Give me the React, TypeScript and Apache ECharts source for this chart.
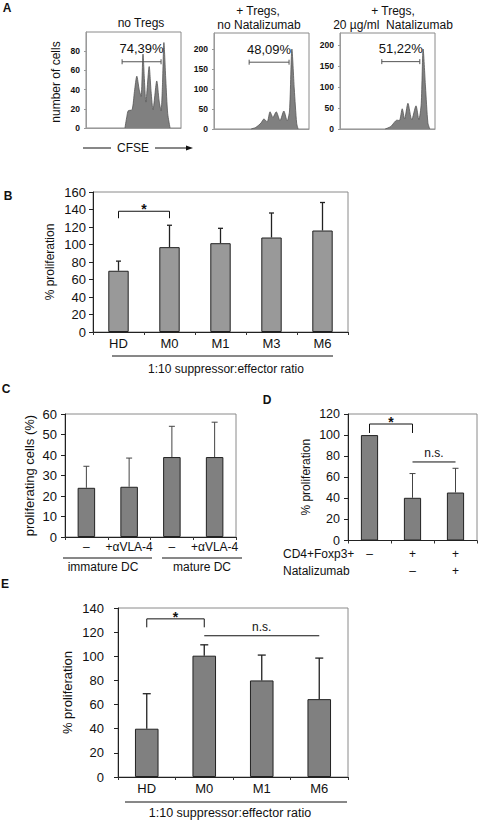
import React, { useEffect, useRef } from "react";
import * as echarts from "echarts";

const SANS = "'Liberation Sans', Arial, Helvetica, sans-serif";
const NARROW = "'Liberation Sans Narrow', 'Liberation Sans', Arial, sans-serif";

// ---------- Panel A : CFSE histograms ----------
const histTitleLines = [["no Tregs"], ["+ Tregs,", "no Natalizumab"], ["+ Tregs,", "20 µg/ml  Natalizumab"]];
const histYName = "number of cells";
const hist1Channel = [41, 43, 44.5, 48.5, 51, 53.5, 56, 58, 60, 61.5, 63, 66.5, 68.5, 70.5, 74.5, 77, 79, 80.5, 82, 84, 86, 88.5];
const hist1Count = [0, 12, 18, 19, 38, 54, 40, 33, 77, 50, 27, 64, 38, 19, 49, 28, 18, 45, 89, 50, 15, 0];
const hist2Channel = [39, 44, 49.5, 52.5, 56, 59, 62, 65.5, 69.5, 73.5, 77, 79.5, 82, 84.5, 87, 88.5];
const hist2Count = [0, 4, 15, 25, 18, 43, 29, 43, 21, 45, 20, 45, 200, 100, 15, 0];
const hist3Channel = [47.5, 53.5, 60, 62.5, 65.5, 68, 71.5, 75.5, 80, 83, 85.5, 87.5, 90, 92.5, 94.5];
const hist3Count = [0, 6, 21, 20, 48, 24, 61, 22, 55, 22, 60, 190, 100, 15, 0];
const histYMax = [100, 240, 228];
const histYTicks = [
  [0, 20, 40, 60, 80],
  [0, 50, 100, 150, 200],
  [0, 50, 100, 150, 200],
];
const gateLabels = ["74,39%", "48,09%", "51,22%"];
const gateFrom = [38, 37, 44];
const gateTo = [79, 79, 84];
const gateLevel = [69, 167, 160];

// ---------- Panel B ----------
const bCategories = ["HD", "M0", "M1", "M3", "M6"];
const bMeans = [70, 97, 101.5, 108, 116];
const bSD = [11, 25, 17, 28, 32];
const bSigFrom = [0];
const bSigTo = [1];
const bSigLevel = [138];
const bSigFoot = [130];
const bSigText = ["*"];
const bAxisTitle = "1:10 suppressor:effector ratio";

// ---------- Panel C ----------
const cCategories = ["\u2013", "+\u03B1VLA-4", "\u2013", "+\u03B1VLA-4"];
const cGroups = ["immature DC", "mature DC"];
const cMeans = [24, 24.5, 39, 39];
const cSD = [10.5, 14, 15, 17];

// ---------- Panel D ----------
const dTregRow = ["\u2013", "+", "+"];
const dNatRow = ["", "\u2013", "+"];
const dRowNames = ["CD4+Foxp3+", "Natalizumab"];
const dMeans = [100, 40.5, 45.5];
const dSD = [0, 23, 23];
const dSigFrom = [0, 1];
const dSigTo = [1, 2];
const dSigLevel = [110.5, 74.5];
const dSigFoot = [102, 74.5];
const dSigText = ["*", "n.s."];

// ---------- Panel E ----------
const eCategories = ["HD", "M0", "M1", "M6"];
const eMeans = [40, 100.5, 80, 64.5];
const eSD = [29, 9, 21, 34];
const eSigFrom = [0, 1];
const eSigTo = [1, 3];
const eSigLevel = [131, 117];
const eSigFoot = [124, 117];
const eSigText = ["*", "n.s."];
const eAxisTitle = "1:10 suppressor:effector ratio";

const panelLetters = ["A", "B", "C", "D", "E"];

function errorBars(idx: number, means: number[], sds: number[], color: string, lw: number, cap: number) {
  return {
    type: "custom",
    xAxisIndex: idx,
    yAxisIndex: idx,
    z: 4,
    encode: { x: 0, y: [1, 2] },
    data: means.map((m, i) => [i, m, m + sds[i]]),
    renderItem: (params: any, api: any) => {
      const lo = api.value(1);
      const hi = api.value(2);
      if (hi <= lo) return { type: "group", children: [] };
      const p0 = api.coord([api.value(0), lo]);
      const p1 = api.coord([api.value(0), hi]);
      return {
        type: "group",
        children: [
          { type: "line", shape: { x1: p0[0], y1: p0[1], x2: p1[0], y2: p1[1] }, style: { stroke: color, lineWidth: lw } },
          { type: "line", shape: { x1: p1[0] - cap, y1: p1[1], x2: p1[0] + cap, y2: p1[1] }, style: { stroke: color, lineWidth: lw } },
        ],
      };
    },
  };
}

function sigMarks(idx: number, from: number[], to: number[], level: number[], foot: number[], texts: string[], starSize: number, nsSize: number) {
  return {
    type: "custom",
    xAxisIndex: idx,
    yAxisIndex: idx,
    z: 5,
    encode: { x: [0, 1], y: [2, 3] },
    data: from.map((f, i) => [f, to[i], level[i], foot[i]]),
    renderItem: (params: any, api: any) => {
      const t = texts[params.dataIndex];
      const a = api.coord([api.value(0), api.value(3)]);
      const b = api.coord([api.value(0), api.value(2)]);
      const c = api.coord([api.value(1), api.value(2)]);
      const d = api.coord([api.value(1), api.value(3)]);
      const isStar = t === "*";
      return {
        type: "group",
        children: [
          { type: "polyline", shape: { points: [a, b, c, d] }, style: { stroke: "#111", lineWidth: 1, fill: null } },
          {
            type: "text",
            x: (b[0] + c[0]) / 2,
            y: b[1] - (isStar ? 2 : 9),
            style: {
              text: t,
              fill: "#111",
              fontFamily: SANS,
              fontSize: isStar ? starSize : nsSize,
              fontWeight: isStar ? "bold" : "normal",
              align: "center",
              verticalAlign: "middle",
            },
          },
        ],
      };
    },
  };
}

function gateSeries(idx: number) {
  return {
    type: "custom",
    xAxisIndex: idx,
    yAxisIndex: idx,
    z: 5,
    encode: { x: [0, 1], y: 2 },
    data: [[gateFrom[idx], gateTo[idx], gateLevel[idx]]],
    renderItem: (params: any, api: any) => {
      const a = api.coord([api.value(0), api.value(2)]);
      const b = api.coord([api.value(1), api.value(2)]);
      const col = "#555";
      return {
        type: "group",
        children: [
          { type: "line", shape: { x1: a[0], y1: a[1], x2: b[0], y2: b[1] }, style: { stroke: col, lineWidth: 1 } },
          { type: "line", shape: { x1: a[0], y1: a[1] - 2.5, x2: a[0], y2: a[1] + 2.5 }, style: { stroke: col, lineWidth: 1 } },
          { type: "line", shape: { x1: b[0], y1: b[1] - 2.5, x2: b[0], y2: b[1] + 2.5 }, style: { stroke: col, lineWidth: 1 } },
          {
            type: "text",
            x: (a[0] + b[0]) / 2,
            y: a[1] - 13,
            style: { text: gateLabels[idx], fill: "#111", fontFamily: SANS, fontSize: 13, align: "center", verticalAlign: "middle" },
          },
        ],
      };
    },
  };
}

export default function App() {
  const ref = useRef<HTMLDivElement>(null);
  useEffect(() => {
    document.body.style.margin = "0";
    if (!ref.current) return;
    const chart = echarts.init(ref.current, null, { renderer: "svg" });

    const histData = [
      hist1Channel.map((x, i) => [x, hist1Count[i]]),
      hist2Channel.map((x, i) => [x, hist2Count[i]]),
      hist3Channel.map((x, i) => [x, hist3Count[i]]),
    ];

    const grids = [
      { left: 86, top: 32, width: 95, height: 96 },
      { left: 214, top: 33, width: 95, height: 96 },
      { left: 340, top: 33, width: 95, height: 96 },
      { left: 93, top: 192, width: 255, height: 140 },
      { left: 65, top: 414, width: 171, height: 123 },
      { left: 348, top: 414, width: 129, height: 126.5 },
      { left: 118, top: 608, width: 230, height: 169 },
    ].map((g) => ({ ...g, show: true, borderColor: "#8a8a8a", borderWidth: 1, backgroundColor: "transparent", containLabel: false }));

    const histX = [0, 1, 2].map((i) => ({
      gridIndex: i,
      type: "value",
      min: 0,
      max: 100,
      axisLabel: { show: false },
      axisTick: { show: false },
      axisLine: { show: true, lineStyle: { color: "#9a9a9a" } },
      splitLine: { show: false },
    }));
    const histY = [0, 1, 2].map((i) => ({
      gridIndex: i,
      type: "value",
      min: 0,
      max: histYMax[i],
      axisLabel: {
        show: true,
        customValues: histYTicks[i],
        fontFamily: SANS,
        fontSize: 8.5,
        fontWeight: "bold",
        color: "#111",
        margin: 6,
        hideOverlap: false,
      },
      axisTick: { show: true, customValues: histYTicks[i], length: 2, lineStyle: { color: "#999" } },
      axisLine: { show: true, lineStyle: { color: "#9a9a9a" } },
      splitLine: { show: false },
    }));

    const catAxis = (gridIndex: number, data: string[], fontSize: number, margin: number, extra: any = {}) => ({
      gridIndex,
      type: "category",
      data,
      axisTick: { show: true, length: 3, lineStyle: { color: "#333" } },
      axisLine: { show: true, lineStyle: { color: "#222" } },
      axisLabel: { fontFamily: SANS, fontSize, color: "#111", margin, interval: 0, ...extra },
      splitLine: { show: false },
    });
    const valAxis = (gridIndex: number, max: number, step: number, name: string, nameGap: number, font: string, fontSize: number, nameSize: number, margin: number) => ({
      gridIndex,
      type: "value",
      min: 0,
      max,
      interval: step,
      name,
      nameLocation: "middle",
      nameGap,
      nameMoveOverlap: false,
      nameTextStyle: { fontFamily: font, fontSize: nameSize, color: "#111" },
      axisLabel: { fontFamily: font, fontSize, color: "#111", margin },
      axisTick: { show: true, length: 4, lineStyle: { color: "#222" } },
      axisLine: { show: true, lineStyle: { color: "#222" } },
      splitLine: { show: false },
    });

    const xAxes = [
      ...histX,
      catAxis(3, bCategories, 13, 5),
      catAxis(4, cCategories, 12, 4),
      catAxis(5, dTregRow, 12, 5, {
        lineHeight: 17,
        formatter: (v: string, i: number) => v + "\n" + (dNatRow[i] || " "),
      }),
      catAxis(6, eCategories, 13, 5),
    ];
    const yAxes = [
      ...histY,
      valAxis(3, 160, 20, "% proliferation", 37, SANS, 13, 12, 7),
      valAxis(4, 60, 10, "proliferating cells (%)", 29, NARROW, 13, 13, 8),
      valAxis(5, 120, 20, "% proliferation", 36, SANS, 12.5, 12, 8),
      valAxis(6, 140, 20, "% proliferation", 44, SANS, 13, 13, 14),
    ];

    const histSeries = [0, 1, 2].map((i) => ({
      type: "line",
      xAxisIndex: i,
      yAxisIndex: i,
      data: histData[i],
      smooth: 0.25,
      symbol: "none",
      lineStyle: { color: "#555", width: 0.8 },
      areaStyle: { color: "#808080", opacity: 1 },
    }));

    const bar = (idx: number, data: number[], color: string, width: string) => ({
      type: "bar",
      xAxisIndex: idx,
      yAxisIndex: idx,
      data,
      barWidth: width,
      itemStyle: { color, borderColor: "#222", borderWidth: 1 },
      z: 3,
    });

    const txt = (text: string, x: number, y: number, size: number, extra: any = {}, rotation = 0) => ({
      type: "text",
      x,
      y,
      rotation,
      style: { text, fill: "#111", fontFamily: SANS, fontSize: size, align: "center", verticalAlign: "middle", ...extra },
    });
    const ln = (x1: number, y1: number, x2: number, y2: number, color = "#111") => ({
      type: "line",
      shape: { x1, y1, x2, y2 },
      style: { stroke: color, lineWidth: 1 },
    });

    const letterPos = [[7, 8], [8, 196], [6, 389], [267, 400], [5, 584]];
    const graphics: any[] = [
      ...panelLetters.map((l, i) => txt(l, letterPos[i][0], letterPos[i][1], 12, { fontWeight: "bold" })),
      // histogram titles
      txt(histTitleLines[0][0], 141, 23, 12),
      txt(histTitleLines[1][0], 258, 11, 12),
      txt(histTitleLines[1][1], 259, 25, 12),
      txt(histTitleLines[2][0], 393, 11, 12),
      txt(histTitleLines[2][1], 393, 25, 12),
      txt(histYName, 56, 82, 12, {}, Math.PI / 2),
      // CFSE axis
      txt("CFSE", 133, 148, 12),
      ln(83, 148, 111, 148),
      ln(155, 148, 188, 148),
      { type: "polygon", shape: { points: [[193, 148], [186, 145.5], [186, 150.5]] }, style: { fill: "#111" } },
      // B group title
      ln(112, 356, 333, 356),
      txt(bAxisTitle, 226, 369, 12),
      // C group titles
      ln(63, 558, 152, 558),
      ln(162, 558, 242, 558),
      txt(cGroups[0], 103, 567, 12),
      txt(cGroups[1], 202, 567, 12),
      // D row names
      txt(dRowNames[0], 283, 554, 12, { align: "left" }),
      txt(dRowNames[1], 283, 571, 12, { align: "left" }),
      // E group title
      ln(125, 802, 347, 802),
      txt(eAxisTitle, 230, 813, 12.5),
    ];

    chart.setOption({
      animation: false,
      backgroundColor: "#fff",
      grid: grids,
      xAxis: xAxes,
      yAxis: yAxes,
      graphic: graphics,
      series: [
        ...histSeries,
        gateSeries(0),
        gateSeries(1),
        gateSeries(2),
        bar(3, bMeans, "#999999", "40%"),
        errorBars(3, bMeans, bSD, "#222", 1.3, 2.5),
        sigMarks(3, bSigFrom, bSigTo, bSigLevel, bSigFoot, bSigText, 14, 12),
        bar(4, cMeans, "#808080", "41%"),
        errorBars(4, cMeans, cSD, "#444", 1, 3),
        bar(5, dMeans, "#808080", "40%"),
        errorBars(5, dMeans, dSD, "#444", 1, 3),
        sigMarks(5, dSigFrom, dSigTo, dSigLevel, dSigFoot, dSigText, 14, 12),
        bar(6, eMeans, "#808080", "41%"),
        errorBars(6, eMeans, eSD, "#222", 1.3, 4),
        sigMarks(6, eSigFrom, eSigTo, eSigLevel, eSigFoot, eSigText, 14, 12),
      ],
    });
    return () => chart.dispose();
  }, []);
  return <div ref={ref} style={{ width: 478, height: 821 }} />;
}
